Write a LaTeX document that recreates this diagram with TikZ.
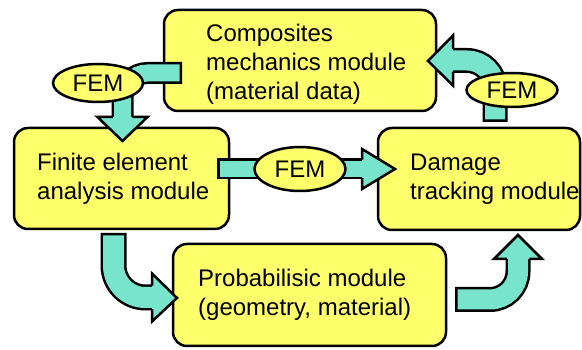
\documentclass[tikz,border=0pt]{standalone}
\usepackage{fontspec}
\setmainfont{Liberation Sans}
\usetikzlibrary{shapes.geometric,calc}
\definecolor{boxyellow}{RGB}{255,255,108}
\definecolor{arrteal}{RGB}{120,228,204}
\begin{document}
\begin{tikzpicture}[x=1pt,y=-1pt,
  modbox/.style={draw=black, line width=2.5pt, fill=boxyellow, rounded corners=14pt, inner sep=0pt},
  modtext/.style={font=\fontsize{24}{29}\selectfont, align=left, inner sep=0pt, anchor=west},
  femell/.style={ellipse, draw=black, line width=2.5pt, fill=boxyellow, inner sep=0pt, font=\fontsize{24}{29}\selectfont},
  bandblack/.style={draw=black, line cap=butt},
  bandteal/.style={draw=arrteal, line cap=butt, shorten <=2.5pt},
  headstyle/.style={fill=arrteal, draw=black, line width=2.5pt, line join=miter}
]
\useasboundingbox (0,0) rectangle (582,350);
\fill[white] (0,0) rectangle (582,350);

% boxes
\node[modbox, minimum width=272pt, minimum height=101pt] (comp) at (300,60.5) {};
\node[modbox, minimum width=215pt, minimum height=101pt] (fin) at (121.5,178.5) {};
\node[modbox, minimum width=202pt, minimum height=102pt] (dam) at (479,179) {};
\node[modbox, minimum width=273pt, minimum height=102pt] (prob) at (309.5,295) {};

\node[modtext] (compT) at (206,64.5) {Composites\\mechanics module\\(material data)};
\node[modtext] (finT) at (37,178.4) {Finite element\\analysis module};
\node[modtext] (damT) at (410,178.9) {Damage\\tracking module};
\node[modtext] (probT) at (198,295) {Probabilisic module\\(geometry, material)};

% arrow A: composites -> finite element
\coordinate (aS) at (182,73);
\coordinate (aB) at (122.5,117);
\coordinate (aT) at (122.5,141);
\draw[bandblack, line width=22pt, rounded corners=25pt] (aS) -- (aS -| aB) -- (aB);
\draw[bandteal, line width=17pt, rounded corners=25pt] (aS) -- (aS -| aB) -- (aB);
\filldraw[headstyle] ($(aB)+(-9.75,0)$) -- ($(aB)+(-25,0)$) -- (aT) -- ($(aB)+(25,0)$) -- ($(aB)+(9.75,0)$);

% arrow B: finite element -> damage
\coordinate (bS) at (217,169);
\coordinate (bB) at (362,169);
\coordinate (bT) at (395,169);
\draw[bandblack, line width=21pt] (bS) -- (bB);
\draw[bandteal, line width=16pt] (bS) -- (bB);
\filldraw[headstyle] ($(bB)+(0,-9.25)$) -- ($(bB)+(0,-20)$) -- (bT) -- ($(bB)+(0,20)$) -- ($(bB)+(0,9.25)$);

% arrow C: damage -> composites
\coordinate (cS) at (495,122);
\coordinate (cB) at (453,60.5);
\coordinate (cT) at (428,61);
\draw[bandblack, line width=25pt, rounded corners=28pt] (cS) -- (cS |- cB) -- (cB);
\draw[bandteal, line width=20pt, rounded corners=28pt] (cS) -- (cS |- cB) -- (cB);
\filldraw[headstyle] ($(cB)+(0,-11.25)$) -- ($(cB)+(0,-25)$) -- (cT) -- ($(cB)+(0,25)$) -- ($(cB)+(0,11.25)$);

% arrow D: finite element -> probabilistic
\coordinate (dS) at (113.5,233);
\coordinate (dB) at (152,297.5);
\coordinate (dT) at (177,298);
\draw[bandblack, line width=26pt, rounded corners=32pt] (dS) -- (dS |- dB) -- (dB);
\draw[bandteal, line width=21pt, rounded corners=32pt] (dS) -- (dS |- dB) -- (dB);
\filldraw[headstyle] ($(dB)+(0,-11.75)$) -- ($(dB)+(0,-24)$) -- (dT) -- ($(dB)+(0,24)$) -- ($(dB)+(0,11.75)$);

% arrow E: probabilistic -> damage
\coordinate (eS) at (455,299.5);
\coordinate (eB) at (518,259);
\coordinate (eT) at (518,235);
\draw[bandblack, line width=25pt, rounded corners=28pt] (eS) -- (eS -| eB) -- (eB);
\draw[bandteal, line width=20pt, rounded corners=28pt] (eS) -- (eS -| eB) -- (eB);
\filldraw[headstyle] ($(eB)+(-11.25,0)$) -- ($(eB)+(-24,0)$) -- (eT) -- ($(eB)+(24,0)$) -- ($(eB)+(11.25,0)$);

% FEM ellipses
\node[femell, minimum width=90pt, minimum height=38pt] (fem1) at (98,83) {FEM};
\node[femell, minimum width=91pt, minimum height=44pt] (fem2) at (300,169) {FEM};
\node[femell, minimum width=91pt, minimum height=34pt] (fem3) at (512,90) {FEM};
\end{tikzpicture}
\end{document}
